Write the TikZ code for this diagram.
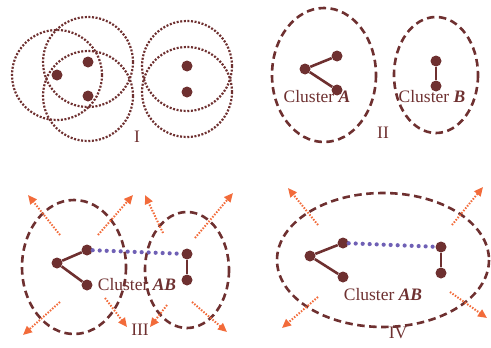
\documentclass[tikz,border=0pt]{standalone}
\usepackage{fontspec}
\setmainfont{Liberation Serif}
\usetikzlibrary{arrows.meta,positioning}
\definecolor{clusterbrown}{HTML}{6E3030}
\definecolor{groworange}{HTML}{F26B3A}
\definecolor{linkblue}{HTML}{6F60B5}

\begin{document}
\begin{tikzpicture}[
    x=1pt, y=-1pt, >={Triangle[length=9pt,width=8pt]},
    pt/.style={circle,fill=clusterbrown,inner sep=0pt,minimum size=11pt},
    nbhd/.style={draw=clusterbrown,line width=2.2pt,dash pattern=on 2pt off 1.6pt},
    hull/.style={draw=clusterbrown,line width=2.6pt,dash pattern=on 7.5pt off 4.5pt},
    bond/.style={clusterbrown,line width=2.6pt},
    bridge/.style={linkblue,line width=4.2pt,line cap=round,dash pattern=on 0pt off 7pt},
    growarrow/.style={->,groworange,line width=2pt,dash pattern=on 1.5pt off 1.5pt},
    lab/.style={text=clusterbrown,font=\fontsize{17.5}{20}\selectfont,inner sep=0pt}
  ]
    \useasboundingbox (0,0) rectangle (491,348);

    % I: neighbourhoods
    \node[pt] (iA) at (57,75) {};
    \node[pt] (iB) at (88,62) {};
    \node[pt] (iC) at (88,96) {};
    \node[pt] (iD) at (187,66) {};
    \node[pt] (iE) at (187,92) {};
    \foreach \p in {iA,iB,iC,iD,iE}
      \draw[nbhd] (\p) circle[radius=45];
    \node[lab] (stepI) at (137,137) {I};

    % II: two clusters
    \draw[hull] (324,75) ellipse[x radius=52,y radius=67];
    \draw[hull] (436,75) ellipse[x radius=42,y radius=58];
    \node[pt] (aA) at (305,69) {};
    \node[pt] (aB) at (337,56) {};
    \node[pt] (aC) at (337,90) {};
    \node[pt] (bA) at (436,61) {};
    \node[pt] (bB) at (436,86) {};
    \draw[bond] (aA) -- (aB);
    \draw[bond] (aA) -- (aC);
    \draw[bond] (bA) -- (bB);
    \node[lab] (clA) at (317,97) {Cluster \textbf{\textit{A}}};
    \node[lab] (clB) at (432,97) {Cluster \textbf{\textit{B}}};
    \node[lab] (stepII) at (383,133) {II};

    % III: merging
    \draw[hull] (74,267) ellipse[x radius=52,y radius=67];
    \draw[hull] (187,270) ellipse[x radius=42,y radius=58];
    \node[pt] (cA) at (57,263) {};
    \node[pt] (cB) at (87,250) {};
    \node[pt] (cC) at (87,285) {};
    \node[pt] (cD) at (187,254) {};
    \node[pt] (cE) at (187,280) {};
    \draw[bond] (cA) -- (cB);
    \draw[bond] (cA) -- (cC);
    \draw[bond] (cD) -- (cE);
    \draw[bridge] (cB) -- (cD);
    \node[lab] (clAB) at (137,285) {Cluster \textbf{\textit{AB}}};
    \node[lab] (stepIII) at (140,330) {III};
    \coordinate (g1s) at (60,235);  \coordinate (g1t) at (28,195);
    \coordinate (g2s) at (98,235);  \coordinate (g2t) at (133,195);
    \coordinate (g3s) at (60,302);  \coordinate (g3t) at (23,335);
    \coordinate (g4s) at (105,298); \coordinate (g4t) at (127,327);
    \coordinate (g5s) at (163,233); \coordinate (g5t) at (145,195);
    \coordinate (g6s) at (195,238); \coordinate (g6t) at (233,193);
    \coordinate (g7s) at (167,305); \coordinate (g7t) at (150,327);
    \coordinate (g8s) at (192,302); \coordinate (g8t) at (227,332);
    \foreach \g in {1,...,8}
      \draw[growarrow] (g\g s) -- (g\g t);

    % IV: merged cluster
    \draw[hull] (383,260) ellipse[x radius=106,y radius=67];
    \node[pt] (dA) at (310,256) {};
    \node[pt] (dB) at (343,243) {};
    \node[pt] (dC) at (343,277) {};
    \node[pt] (dD) at (441,247) {};
    \node[pt] (dE) at (441,273) {};
    \draw[bond] (dA) -- (dB);
    \draw[bond] (dA) -- (dC);
    \draw[bond] (dD) -- (dE);
    \draw[bridge] (dB) -- (dD);
    \node[lab] (clABm) at (383,295) {Cluster \textbf{\textit{AB}}};
    \node[lab] (stepIV) at (398,333) {IV};
    \coordinate (h1s) at (318,225); \coordinate (h1t) at (288,188);
    \coordinate (h2s) at (452,225); \coordinate (h2t) at (483,187);
    \coordinate (h3s) at (318,297); \coordinate (h3t) at (282,328);
    \coordinate (h4s) at (450,292); \coordinate (h4t) at (487,318);
    \foreach \h in {1,...,4}
      \draw[growarrow] (h\h s) -- (h\h t);
\end{tikzpicture}
\end{document}
